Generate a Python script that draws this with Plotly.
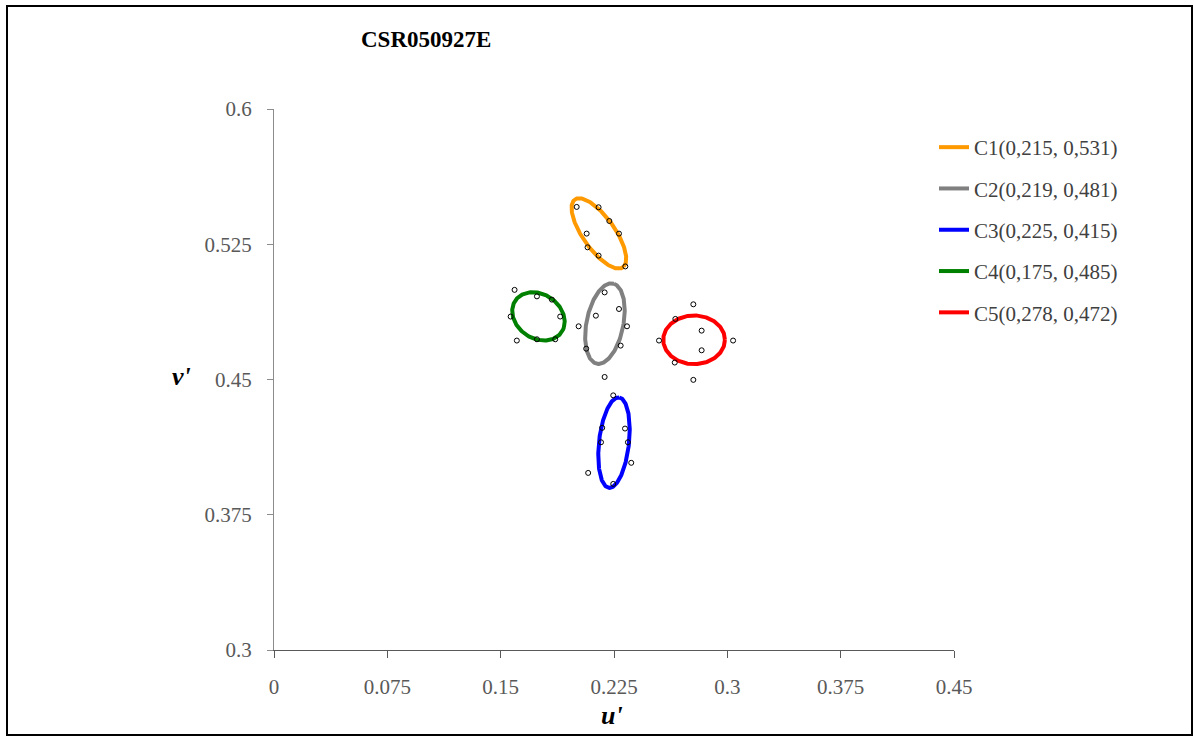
import numpy as np
import plotly.graph_objects as go

# Colour-centre ellipses in the u'v' plane
names = ["C1", "C2", "C3", "C4", "C5"]
centre_u = [0.215, 0.219, 0.225, 0.175, 0.278]
centre_v = [0.531, 0.481, 0.415, 0.485, 0.472]
semi_major = [0.0247, 0.0229, 0.0253, 0.0179, 0.0204]
semi_minor = [0.0099, 0.0121, 0.0099, 0.0127, 0.0135]
tilt_deg = [-48.0, 75.0, 82.0, -20.0, 0.0]
colors = ["#ff9900", "#808080", "#0000ff", "#008000", "#ff0000"]

# Individual measurements around each centre
meas_u = [
    [0.2003, 0.2148, 0.2219, 0.2283, 0.2069, 0.2075, 0.2148, 0.2325],
    [0.2188, 0.2283, 0.2130, 0.2016, 0.2336, 0.2066, 0.2294, 0.2188],
    [0.2245, 0.2172, 0.2323, 0.2164, 0.2342, 0.2364, 0.2079, 0.2245],
    [0.1592, 0.1740, 0.1839, 0.1566, 0.1894, 0.1607, 0.1740, 0.1861],
    [0.2775, 0.2656, 0.2830, 0.2548, 0.3038, 0.2830, 0.2652, 0.2775],
]
meas_v = [
    [0.5457, 0.5455, 0.5379, 0.5309, 0.5309, 0.5233, 0.5187, 0.5127],
    [0.4983, 0.4891, 0.4854, 0.4795, 0.4795, 0.4671, 0.4688, 0.4514],
    [0.4412, 0.4232, 0.4228, 0.4152, 0.4152, 0.4038, 0.3982, 0.3921],
    [0.4997, 0.4961, 0.4943, 0.4849, 0.4849, 0.4716, 0.4723, 0.4723],
    [0.4917, 0.4836, 0.4771, 0.4716, 0.4716, 0.4662, 0.4594, 0.4498],
]

tick_vals_u = [0, 0.075, 0.15, 0.225, 0.3, 0.375, 0.45]
tick_vals_v = [0.3, 0.375, 0.45, 0.525, 0.6]

SERIF = "Liberation Serif"
W, H = 1194, 738
ML, MR, MT, MB = 274, 240, 109, 88
PW, PH = W - ML - MR, H - MT - MB


def px_to_paper_x(px):
    return (px - ML) / PW


def px_to_paper_y(py):
    return (H - MB - py) / PH


fig = go.Figure()

t = np.linspace(0, 2 * np.pi, 241)
for i, name in enumerate(names):
    th = np.radians(tilt_deg[i])
    a, b = semi_major[i], semi_minor[i]
    xu = centre_u[i] + a * np.cos(t) * np.cos(th) - b * np.sin(t) * np.sin(th)
    yv = centre_v[i] + a * np.cos(t) * np.sin(th) + b * np.sin(t) * np.cos(th)
    label = "%s(%s, %s)" % (
        name,
        ("%.3f" % centre_u[i]).replace(".", ","),
        ("%.3f" % centre_v[i]).replace(".", ","),
    )
    fig.add_trace(go.Scatter(
        x=xu, y=yv, mode="lines", name=label,
        line=dict(color=colors[i], width=4),
        legendgroup=name, hoverinfo="skip",
    ))

for i, name in enumerate(names):
    fig.add_trace(go.Scatter(
        x=meas_u[i], y=meas_v[i], mode="markers", showlegend=False,
        marker=dict(symbol="circle-open", size=5, color="#000000",
                    line=dict(width=1, color="#000000")),
    ))

fig.update_layout(
    width=W, height=H,
    margin=dict(l=ML, r=MR, t=MT, b=MB),
    paper_bgcolor="white", plot_bgcolor="white",
    font=dict(family=SERIF, size=21, color="#595959"),
    showlegend=True,
    legend=dict(
        x=px_to_paper_x(934), y=px_to_paper_y(127),
        xanchor="left", yanchor="top",
        font=dict(family=SERIF, size=21, color="#404040"),
        tracegroupgap=11, bgcolor="rgba(0,0,0,0)", borderwidth=0,
    ),
    xaxis=dict(
        range=[0, 0.45], tickvals=tick_vals_u,
        ticktext=[("%g" % v) for v in tick_vals_u],
        showgrid=False, zeroline=False,
        showline=True, linecolor="#595959", linewidth=1,
        ticks="outside", ticklen=7, tickcolor="#595959",
        ticklabelstandoff=11,
        tickfont=dict(family=SERIF, size=21, color="#595959"),
    ),
    yaxis=dict(
        range=[0.3, 0.6], tickvals=tick_vals_v,
        ticktext=[("%g" % v) for v in tick_vals_v],
        showgrid=False, zeroline=False,
        showline=True, linecolor="#8c8c8c", linewidth=1,
        ticks="outside", ticklen=6, tickcolor="#8c8c8c",
        ticklabelstandoff=11,
        tickfont=dict(family=SERIF, size=21, color="#595959"),
    ),
    annotations=[
        dict(text="<b>CSR050927E</b>", xref="paper", yref="paper",
             x=px_to_paper_x(426), y=px_to_paper_y(40),
             xanchor="center", yanchor="middle", showarrow=False,
             font=dict(family=SERIF, size=23, color="#000000")),
        dict(text="<b><i>v'</i></b>", xref="paper", yref="paper",
             x=px_to_paper_x(181), y=px_to_paper_y(376),
             xanchor="center", yanchor="middle", showarrow=False,
             font=dict(family=SERIF, size=26, color="#000000")),
        dict(text="<b><i>u'</i></b>", xref="paper", yref="paper",
             x=px_to_paper_x(612), y=px_to_paper_y(715),
             xanchor="center", yanchor="middle", showarrow=False,
             font=dict(family=SERIF, size=26, color="#000000")),
    ],
    shapes=[
        dict(type="rect", xref="paper", yref="paper",
             x0=px_to_paper_x(7), x1=px_to_paper_x(1192),
             y0=px_to_paper_y(735), y1=px_to_paper_y(6),
             line=dict(color="#000000", width=2), fillcolor="rgba(0,0,0,0)",
             layer="below"),
    ],
)

fig.write_html("out.html")
